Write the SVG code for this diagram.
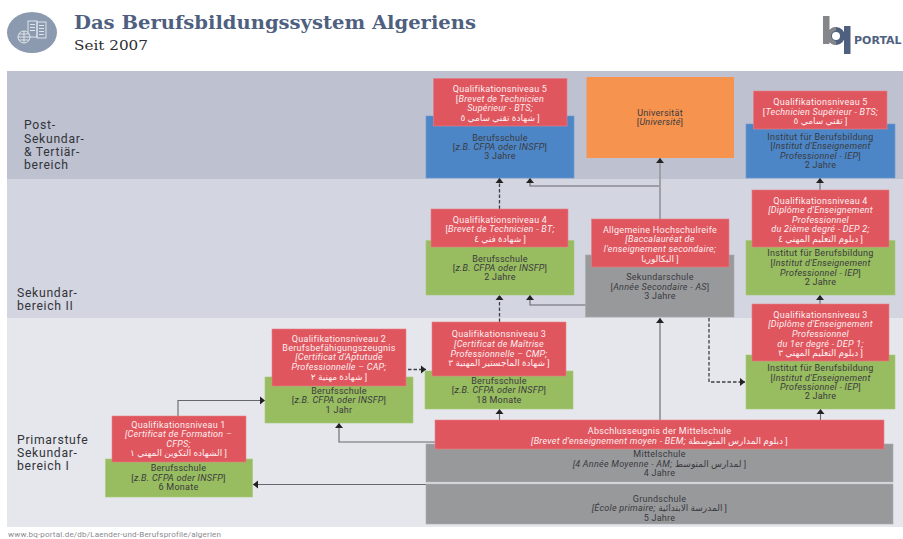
<svg xmlns="http://www.w3.org/2000/svg" width="903" height="539" viewBox="0 0 903 539">
<style>
text{font-family:Roboto,"DejaVu Sans",sans-serif;font-size:9px;letter-spacing:.27px;text-anchor:middle}
.d{fill:#3a3a3e}.w{fill:#fdeef0}
.i{font-style:italic}
.r{fill:#e0565e;stroke:#e68088;stroke-width:.6}
.b{fill:#4d86c6;stroke:#6a9ad0;stroke-width:.6}
.g{fill:#98bc60;stroke:#a8c878;stroke-width:.6}
.y{fill:#98999b;stroke:#aaabb0;stroke-width:.6}
.o{fill:#f6934f}
.band{font-size:12.2px;letter-spacing:.7px;text-anchor:start;fill:#33343a}
.ln{fill:none;stroke:#66676c;stroke-width:1.1}
.th{fill:none;stroke:#9fa0a5;stroke-width:2}
.da{fill:none;stroke:#3f3f44;stroke-width:1.3;stroke-dasharray:3.5 2}
</style>
<defs>
<marker id="a" markerUnits="userSpaceOnUse" markerWidth="10" markerHeight="10" refX="7" refY="5" orient="auto"><path d="M2 1L7 5L2 9Z" fill="#222"/></marker>
</defs>
<rect width="903" height="539" fill="#fff"/>
<rect x="7" y="71" width="896" height="108" fill="#bdc1d0"/>
<rect x="7" y="179" width="896" height="139" fill="#d3d5e0"/>
<rect x="7" y="318" width="896" height="209" fill="#e6e7ed"/>

<g id="header">
<ellipse cx="32" cy="32.500" rx="25" ry="20.500" fill="#8b9aae"/>
<g fill="none" stroke="#e8ecf1" stroke-width=".9">
<rect x="28" y="21" width="9" height="16"/><rect x="37" y="22" width="9" height="16"/>
<path d="M30 24.500h5M30 27.500h5M30 30.500h5M39 25.500h5M39 28.500h5M39 31.500h5M39 34.500h5"/>
<circle cx="24" cy="37" r="6" fill="#8b9aae"/><path d="M18 37h12M24 31v12M19 34h10M19 40h10"/>
</g>
<text x="74" y="28.500" style="font-family:'DejaVu Serif',serif;font-size:19px;font-weight:700;letter-spacing:0;text-anchor:start;fill:#4f5f7f" textLength="402" lengthAdjust="spacingAndGlyphs">Das Berufsbildungssystem Algeriens</text>
<text x="74" y="49.500" style="font-family:'DejaVu Serif',serif;font-size:13.500px;letter-spacing:0;text-anchor:start;fill:#2d2d33" textLength="74" lengthAdjust="spacingAndGlyphs">Seit 2007</text>
</g>
<g id="logo">
<circle cx="836" cy="36" r="6.500" fill="none" stroke="#4f5f7f" stroke-width="5"/>
<path d="M836 27a9 9 0 0 0 0 18v-4a5 5 0 0 1 0-10Z" fill="#85868a"/>
<rect x="823" y="16" width="6.500" height="28" fill="#85868a"/>
<rect x="844" y="26" width="6.500" height="28" fill="#4f5f7f"/>
<text x="854" y="44" style="font-family:'DejaVu Sans',sans-serif;font-size:11px;font-weight:700;letter-spacing:0;text-anchor:start;fill:#4f5f7f">PORTAL</text>
</g>

<g id="band-labels">
<text class="band" x="24" y="129">Post-</text><text class="band" x="24" y="142.500">Sekundar-</text><text class="band" x="24" y="156">&amp; Tertiär-</text><text class="band" x="24" y="169">bereich</text>
<text class="band" x="17" y="297">Sekundar-</text><text class="band" x="17" y="310">bereich II</text>
<text class="band" x="17" y="444">Primarstufe</text><text class="band" x="17" y="457">Sekundar-</text><text class="band" x="17" y="470">bereich I</text>
</g>

<g id="connectors">
<path class="da" d="M499.500 209V178" marker-end="url(#a)"/>
<path class="ln" d="M660 186H530V178" marker-end="url(#a)"/>
<path class="th" d="M660 219V158" marker-end="url(#a)"/>
<path class="ln" d="M820 190V178" marker-end="url(#a)"/>
<path class="ln" d="M820 304V295" marker-end="url(#a)"/>
<path class="da" d="M499.500 322V295" marker-end="url(#a)"/>
<path class="ln" d="M586 305H530V295" marker-end="url(#a)"/>
<path class="th" d="M660 420V318" marker-end="url(#a)"/>
<path class="da" d="M709 318V382H745" marker-end="url(#a)"/>
<path class="ln" d="M499.500 420V409" marker-end="url(#a)"/>
<path class="ln" d="M820.500 420V409" marker-end="url(#a)"/>
<path class="ln" d="M435 442H339V423" marker-end="url(#a)"/>
<path class="ln" d="M426 484.500H253" marker-end="url(#a)"/>
<path class="ln" d="M178 416V400.500H265" marker-end="url(#a)"/>
<path class="da" d="M408 369.500H426" marker-end="url(#a)"/>
</g>

<g id="n-grundschule"><rect class="y" x="426" y="484" width="467" height="40"/>
<text class="d" x="659.500" y="501.700">Grundschule</text><text class="d" x="659.500" y="511.300"><tspan class="i">[École primaire; </tspan>المدرسة الابتدائية ]</text><text class="d" x="659.500" y="521">5 Jahre</text></g>
<g id="n-mittelschule"><rect class="y" x="426" y="444" width="467" height="38"/>
<text class="d" x="659.500" y="457.300">Mittelschule</text><text class="d" x="659.500" y="467"><tspan class="i">[4 Année Moyenne - AM; </tspan>لمدارس المتوسط ]</text><text class="d" x="659.500" y="476.300">4 Jahre</text></g>
<g id="n-abschluss"><rect class="r" x="435" y="420" width="449" height="29"/>
<text class="w" x="659.500" y="434">Abschlusseugnis der Mittelschule</text><text class="w" x="659.500" y="443.700"><tspan class="i">[Brevet d'enseignement moyen - BEM; </tspan>دبلوم المدارس المتوسطة ]</text></g>

<g id="n-berufsschule-6m"><rect class="g" x="105.500" y="459" width="147" height="38"/>
<text class="d" x="178.500" y="471.300">Berufsschule</text><text class="d" x="178.500" y="480.700">[<tspan class="i">z.B. CFPA oder INSFP</tspan>]</text><text class="d" x="178.500" y="490.300">6 Monate</text></g>
<g id="n-q1"><rect class="r" x="112" y="416" width="134" height="46"/>
<text class="w" x="178.500" y="427.700">Qualifikationsniveau 1</text><text class="w i" x="178.500" y="437.300">[Certificat de Formation –</text><text class="w i" x="178.500" y="446.700">CFPS;</text><text class="w" x="178.500" y="456">الشهاده التكوين المهني ١ ]</text></g>

<g id="n-berufsschule-1j"><rect class="g" x="265" y="377" width="148" height="46"/>
<text class="d" x="339" y="393.700">Berufsschule</text><text class="d" x="339" y="403">[<tspan class="i">z.B. CFPA oder INSFP</tspan>]</text><text class="d" x="339" y="413">1 Jahr</text></g>
<g id="n-q2"><rect class="r" x="272" y="329" width="134" height="57"/>
<text class="w" x="339" y="341.700">Qualifikationsniveau 2</text><text class="w" x="339" y="351">Berufsbefähigungszeugnis</text><text class="w i" x="339" y="360.300">[Certificat d'Aptutude</text><text class="w i" x="339" y="370">Professionnelle – CAP;</text><text class="w" x="339" y="379.700">شهادة مهنية ٢ ]</text></g>

<g id="n-berufsschule-18m"><rect class="g" x="425" y="371" width="148" height="38"/>
<text class="d" x="499" y="383.700">Berufsschule</text><text class="d" x="499" y="393.300">[<tspan class="i">z.B. CFPA oder INSFP</tspan>]</text><text class="d" x="499" y="403">18 Monate</text></g>
<g id="n-q3-left"><rect class="r" x="432" y="322" width="134" height="54"/>
<text class="w" x="499" y="337.300">Qualifikationsniveau 3</text><text class="w i" x="499" y="347">[Certificat de Maîtrise</text><text class="w i" x="499" y="356.700">Professionnelle – CMP;</text><text class="w" x="499" y="366.300">شهادة الماجستير المهنية ٣ ]</text></g>

<g id="n-institut-3"><rect class="g" x="746" y="355" width="149" height="54"/>
<text class="d" x="820.500" y="371">Institut für Berufsbildung</text><text class="d" x="820.500" y="380.700">[<tspan class="i">Institut d'Enseignement</tspan></text><text class="d" x="820.500" y="390"><tspan class="i">Professionnel - IEP</tspan>]</text><text class="d" x="820.500" y="399.300">2 Jahre</text></g>
<g id="n-q3-right"><rect class="r" x="752" y="304" width="137" height="57"/>
<text class="w" x="820.500" y="318">Qualifikationsniveau 3</text><text class="w i" x="820.500" y="327.300">[Diplôme d'Enseignement</text><text class="w i" x="820.500" y="337">Professionnel</text><text class="w i" x="820.500" y="346.700">du 1er degré - DEP 1;</text><text class="w" x="820.500" y="356">دبلوم التعليم المهني ٣ ]</text></g>

<g id="n-berufsschule-2j"><rect class="g" x="426" y="240.500" width="148" height="54.500"/>
<text class="d" x="500" y="261.700">Berufsschule</text><text class="d" x="500" y="271">[<tspan class="i">z.B. CFPA oder INSFP</tspan>]</text><text class="d" x="500" y="280.300">2 Jahre</text></g>
<g id="n-q4-left"><rect class="r" x="431" y="209" width="137" height="38"/>
<text class="w" x="500" y="222.700">Qualifikationsniveau 4</text><text class="w" x="500" y="232.200">[<tspan class="i">Brevet de Technicien - BT;</tspan></text><text class="w" x="500" y="242">شهادة فني ٤ ]</text></g>

<g id="n-sekundarschule"><rect class="y" x="585.500" y="255" width="148.500" height="62"/>
<text class="d" x="660" y="280">Sekundarschule</text><text class="d" x="660" y="289.700">[<tspan class="i">Année Secondaire - AS</tspan>]</text><text class="d" x="660" y="299.300">3 Jahre</text></g>
<g id="n-abitur"><rect class="r" x="591.500" y="219" width="137.500" height="48"/>
<text class="w" x="660" y="233">Allgemeine Hochschulreife</text><text class="w i" x="660" y="242.300">[Baccalauréat de</text><text class="w i" x="660" y="252">l'enseignement secondaire;</text><text class="w" x="660" y="261.700">البكالوريا ]</text></g>

<g id="n-institut-4"><rect class="g" x="746" y="240.500" width="149" height="54.500"/>
<text class="d" x="820.500" y="256.300">Institut für Berufsbildung</text><text class="d" x="820.500" y="266">[<tspan class="i">Institut d'Enseignement</tspan></text><text class="d" x="820.500" y="275.700"><tspan class="i">Professionnel - IEP</tspan>]</text><text class="d" x="820.500" y="285">2 Jahre</text></g>
<g id="n-q4-right"><rect class="r" x="752" y="190" width="137" height="57"/>
<text class="w" x="820.500" y="204">Qualifikationsniveau 4</text><text class="w i" x="820.500" y="213.300">[Diplôme d'Enseignement</text><text class="w i" x="820.500" y="223">Professionnel</text><text class="w i" x="820.500" y="232.300">du 2ième degré - DEP 2;</text><text class="w" x="820.500" y="242">دبلوم التعليم المهني ٤ ]</text></g>

<g id="n-berufsschule-3j"><rect class="b" x="426" y="116" width="148" height="62"/>
<text class="d" x="500" y="140.700">Berufsschule</text><text class="d" x="500" y="150">[<tspan class="i">z.B. CFPA oder INSFP</tspan>]</text><text class="d" x="500" y="159.300">3 Jahre</text></g>
<g id="n-q5-left"><rect class="r" x="433.500" y="78.500" width="133.500" height="47.500"/>
<text class="w" x="500" y="92.300">Qualifikationsniveau 5</text><text class="w" x="500" y="101.700">[<tspan class="i">Brevet de Technicien</tspan></text><text class="w i" x="500" y="111">Supérieur - BTS;</text><text class="w" x="500" y="120.500">شهادة تقني سامي ٥ ]</text></g>

<g id="n-universitaet"><rect class="o" x="586.500" y="77" width="147.500" height="81"/>
<text class="d" x="660" y="116">Universität</text><text class="d" x="660" y="125">[<tspan class="i">Université</tspan>]</text></g>

<g id="n-institut-5"><rect class="b" x="746" y="124" width="149" height="54"/>
<text class="d" x="820.500" y="139.700">Institut für Berufsbildung</text><text class="d" x="820.500" y="149">[<tspan class="i">Institut d'Enseignement</tspan></text><text class="d" x="820.500" y="158.500"><tspan class="i">Professionnel - IEP</tspan>]</text><text class="d" x="820.500" y="168">2 Jahre</text></g>
<g id="n-q5-right"><rect class="r" x="753.500" y="91" width="133.500" height="38"/>
<text class="w" x="820.500" y="105">Qualifikationsniveau 5</text><text class="w" x="820.500" y="114.500">[<tspan class="i">Technicien Supérieur - BTS;</tspan></text><text class="w" x="820.500" y="124">تقني سامي ٥ ]</text></g>

<text x="8" y="537" style="font-size:8px;letter-spacing:.2px;text-anchor:start;fill:#8a8a8e">www.bq-portal.de/db/Laender-und-Berufsprofile/algerien</text>
</svg>
